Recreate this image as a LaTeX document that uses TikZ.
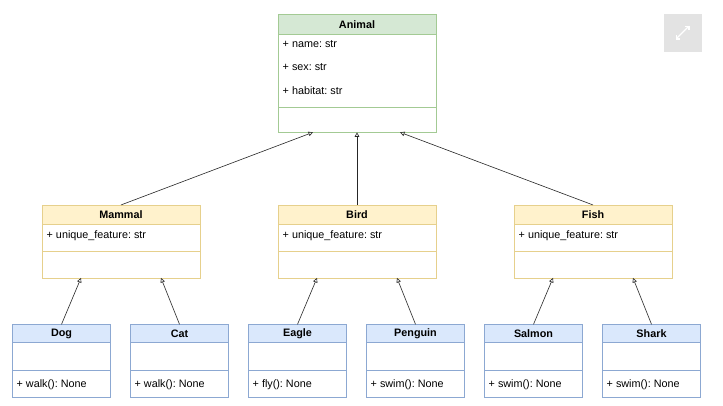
\documentclass[tikz,border=0pt]{standalone}
\usepackage{fontspec}
\setmainfont{Liberation Sans}
\usetikzlibrary{positioning, arrows.meta}
\frenchspacing

\definecolor{greenfill}{HTML}{D5E8D4}
\definecolor{greenline}{HTML}{A3CA94}
\definecolor{yellowfill}{HTML}{FFF2CC}
\definecolor{yellowline}{HTML}{E6D08C}
\definecolor{bluefill}{HTML}{DAE8FC}
\definecolor{blueline}{HTML}{8CA8D2}
\definecolor{iconfill}{HTML}{E3E3E3}

\begin{document}
\begin{tikzpicture}[x=1pt, y=-1pt]
    %uml classes
\tikzset{
    head/.style={draw=#1line, fill=#1fill, line width=0.8pt, inner sep=0pt, outer sep=0pt,
        font=\fontsize{10.8}{13}\selectfont\bfseries},
    body/.style={draw=#1line, fill=white, line width=0.8pt, inner sep=0pt, outer sep=0pt},
    field/.style={inner sep=0pt, anchor=west, text height=7.8pt, text depth=2.2pt,
        font=\fontsize{10.8}{13}\selectfont},
    inherit/.style={-{Triangle[open, length=4.5pt, width=4.5pt]}, line width=0.6pt, black!85}
}
    \fill[white] (0,0) rectangle (723,405);
    \useasboundingbox (0,0) rectangle (723,405);

    \node[minimum width=38pt, minimum height=38pt, fill=iconfill](Expand) at (682.5,32.5) {};
    \draw[white, line width=1.1pt, {Straight Barb[length=2.5pt, width=5pt]}-{Straight Barb[length=2.5pt, width=5pt]}]
     ([shift={(-7,7)}]Expand.center) -- ([shift={(7,-7)}]Expand.center);

    % top
    \node[head=green, minimum width=158pt, minimum height=20pt](Animal) at (357,24.3) {Animal};
    \node[body=green, minimum width=158pt, minimum height=73pt, below=0pt of Animal](Animal-attr) {};
    \node[body=green, minimum width=158pt, minimum height=25pt, below=0pt of Animal-attr](Animal-ops) {};
    \node[field](Animal-name) at ([shift={(4.5,10)}]Animal-attr.north west) {+ name: str};
    \node[field, below=23.5pt of Animal-name.west, anchor=west](Animal-sex) {+ sex: str};
    \node[field, below=23.5pt of Animal-sex.west, anchor=west](Animal-habitat) {+ habitat: str};

    % middle
    \node[head=yellow, minimum width=158pt, minimum height=19.3pt](Mammal) at (121,214.6) {Mammal};
    \node[head=yellow, minimum width=158pt, minimum height=19.3pt](Bird) at (357,214.6) {Bird};
    \node[head=yellow, minimum width=158pt, minimum height=19.3pt](Fish) at (593,214.6) {Fish};
    \node[body=yellow, minimum width=158pt, minimum height=27.4pt, below=0pt of Mammal](Mammal-attr) {};
    \node[body=yellow, minimum width=158pt, minimum height=26.3pt, below=0pt of Mammal-attr](Mammal-ops) {};
    \node[body=yellow, minimum width=158pt, minimum height=27.4pt, below=0pt of Bird](Bird-attr) {};
    \node[body=yellow, minimum width=158pt, minimum height=26.3pt, below=0pt of Bird-attr](Bird-ops) {};
    \node[body=yellow, minimum width=158pt, minimum height=27.4pt, below=0pt of Fish](Fish-attr) {};
    \node[body=yellow, minimum width=158pt, minimum height=26.3pt, below=0pt of Fish-attr](Fish-ops) {};
    \node[field](Mammal-feature) at ([shift={(4.5,11.4)}]Mammal-attr.north west) {+ unique\_feature: str};
    \node[field](Bird-feature) at ([shift={(4.5,11.4)}]Bird-attr.north west) {+ unique\_feature: str};
    \node[field](Fish-feature) at ([shift={(4.5,11.4)}]Fish-attr.north west) {+ unique\_feature: str};

    % bottom
    \node[head=blue, minimum width=98pt, minimum height=18.4pt](Dog) at (61.5,333.5) {Dog};
    \node[head=blue, minimum width=98pt, minimum height=18.4pt](Cat) at (179.5,333.5) {Cat};
    \node[head=blue, minimum width=98pt, minimum height=18.4pt](Eagle) at (297.5,333.5) {Eagle};
    \node[head=blue, minimum width=98pt, minimum height=18.4pt](Penguin) at (415.5,333.5) {Penguin};
    \node[head=blue, minimum width=98pt, minimum height=18.4pt](Salmon) at (533.5,333.5) {Salmon};
    \node[head=blue, minimum width=98pt, minimum height=18.4pt](Shark) at (651.5,333.5) {Shark};
    \node[body=blue, minimum width=98pt, minimum height=27.3pt, below=0pt of Dog](Dog-attr) {};
    \node[body=blue, minimum width=98pt, minimum height=27.7pt, below=0pt of Dog-attr](Dog-ops) {};
    \node[body=blue, minimum width=98pt, minimum height=27.3pt, below=0pt of Cat](Cat-attr) {};
    \node[body=blue, minimum width=98pt, minimum height=27.7pt, below=0pt of Cat-attr](Cat-ops) {};
    \node[body=blue, minimum width=98pt, minimum height=27.3pt, below=0pt of Eagle](Eagle-attr) {};
    \node[body=blue, minimum width=98pt, minimum height=27.7pt, below=0pt of Eagle-attr](Eagle-ops) {};
    \node[body=blue, minimum width=98pt, minimum height=27.3pt, below=0pt of Penguin](Penguin-attr) {};
    \node[body=blue, minimum width=98pt, minimum height=27.7pt, below=0pt of Penguin-attr](Penguin-ops) {};
    \node[body=blue, minimum width=98pt, minimum height=27.3pt, below=0pt of Salmon](Salmon-attr) {};
    \node[body=blue, minimum width=98pt, minimum height=27.7pt, below=0pt of Salmon-attr](Salmon-ops) {};
    \node[body=blue, minimum width=98pt, minimum height=27.3pt, below=0pt of Shark](Shark-attr) {};
    \node[body=blue, minimum width=98pt, minimum height=27.7pt, below=0pt of Shark-attr](Shark-ops) {};
    \node[field](Dog-walk) at ([shift={(4,14.8)}]Dog-ops.north west) {+ walk(): None};
    \node[field](Cat-walk) at ([shift={(4,14.8)}]Cat-ops.north west) {+ walk(): None};
    \node[field](Eagle-fly) at ([shift={(4,14.8)}]Eagle-ops.north west) {+ fly(): None};
    \node[field](Penguin-swim) at ([shift={(4,14.8)}]Penguin-ops.north west) {+ swim(): None};
    \node[field](Salmon-swim) at ([shift={(4,14.8)}]Salmon-ops.north west) {+ swim(): None};
    \node[field](Shark-swim) at ([shift={(4,14.8)}]Shark-ops.north west) {+ swim(): None};

    % inheritance
    \draw[inherit] (Mammal.north) -- ([xshift=-44pt]Animal-ops.south);
    \draw[inherit] (Bird.north) -- (Animal-ops.south);
    \draw[inherit] (Fish.north) -- ([xshift=43pt]Animal-ops.south);
    \draw[inherit] (Dog.north) -- ([xshift=-40pt]Mammal-ops.south);
    \draw[inherit] (Cat.north) -- ([xshift=40pt]Mammal-ops.south);
    \draw[inherit] (Eagle.north) -- ([xshift=-40pt]Bird-ops.south);
    \draw[inherit] (Penguin.north) -- ([xshift=40pt]Bird-ops.south);
    \draw[inherit] (Salmon.north) -- ([xshift=-40pt]Fish-ops.south);
    \draw[inherit] (Shark.north) -- ([xshift=40pt]Fish-ops.south);
  \end{tikzpicture}
\end{document}
